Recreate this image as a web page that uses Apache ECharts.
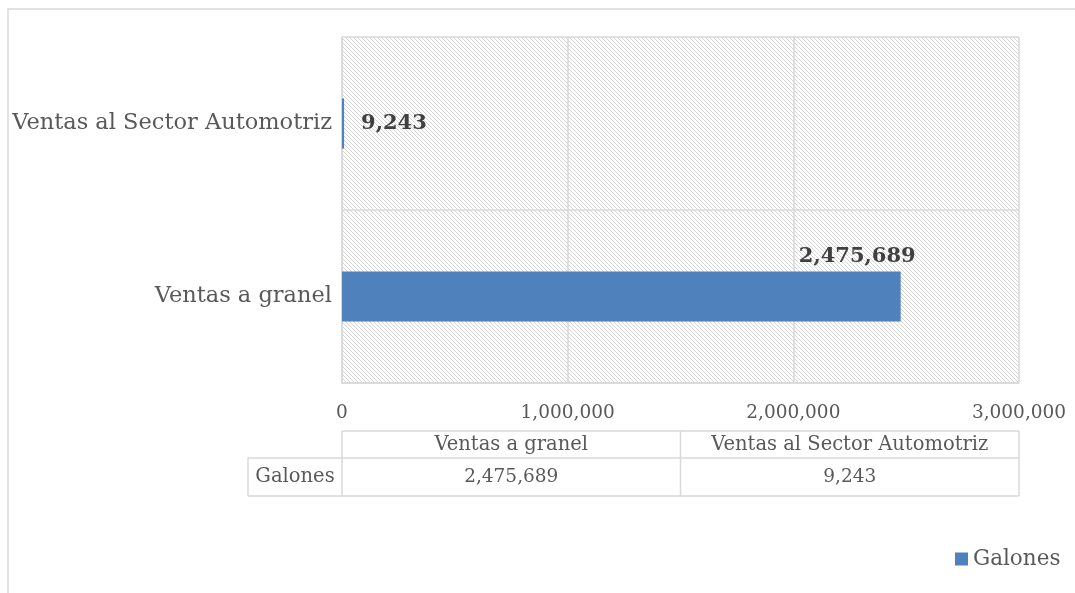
<!DOCTYPE html>
<html>
<head>
<meta charset="utf-8">
<script src="https://cdn.jsdelivr.net/npm/echarts@6/dist/echarts.min.js"></script>
<style>
html,body{margin:0;padding:0;background:#fff;}
#c{width:1075px;height:593px;}
</style>
</head>
<body>
<div id="c"></div>
<script>
const categories = ['Ventas a granel', 'Ventas al Sector Automotriz'];
const galones = [2475689, 9243];
const xTickMin = 0;
const xTickMax = 3000000;
const xTickStep = 1000000;
const seriesName = 'Galones';
const tableColumns = ['Ventas a granel', 'Ventas al Sector Automotriz'];
const tableRowLabel = 'Galones';
const tableRowValues = [2475689, 9243];

const fmt = n => Number(n).toLocaleString('en-US');
const FONT = 'DejaVu Serif';
const GRAY = '#595959';
const LINE = '#d9d9d9';

function makePattern() {
  const c = document.createElement('canvas');
  c.width = 8; c.height = 8;
  const ctx = c.getContext('2d');
  ctx.fillStyle = '#ffffff';
  ctx.fillRect(0, 0, 8, 8);
  ctx.fillStyle = '#d4d4d4';
  for (let y = 0; y < 8; y++) {
    for (let x = 0; x < 8; x++) {
      if (((x - y) % 4 + 4) % 4 === 0) ctx.fillRect(x, y, 1, 1);
    }
  }
  return c;
}

const chart = echarts.init(document.getElementById('c'), null, {renderer: 'canvas'});
const grid = {left: 342, top: 37, right: 56, bottom: 210};

chart.setOption({
  animation: false,
  backgroundColor: '#ffffff',
  grid: Object.assign({show: true, borderWidth: 0, backgroundColor: {image: makePattern(), repeat: 'repeat'}}, grid),
  legend: {
    data: [seriesName],
    left: 950, top: 543,
    itemWidth: 13, itemHeight: 13, itemGap: 3,
    icon: 'rect',
    textStyle: {fontFamily: FONT, fontSize: 21.5, color: GRAY}
  },
  xAxis: {
    type: 'value', min: xTickMin, max: xTickMax, interval: xTickStep,
    axisLine: {show: true, lineStyle: {color: LINE, width: 1.5}},
    axisTick: {show: false},
    axisLabel: {formatter: v => fmt(v), fontFamily: FONT, fontSize: 18.5, color: GRAY, margin: 21},
    splitLine: {show: true, lineStyle: {color: LINE, width: 1.5}}
  },
  yAxis: {
    type: 'category', data: categories,
    axisLine: {show: true, lineStyle: {color: LINE, width: 1.5}},
    axisTick: {show: false},
    axisLabel: {fontFamily: FONT, fontSize: 22.5, color: GRAY, margin: 10},
    splitLine: {show: true, lineStyle: {color: LINE, width: 1.5}}
  },
  series: [{
    name: seriesName, type: 'bar',
    data: galones.map((v, i) => ({
      value: v,
      label: i === 0
        ? {position: ['100%', 0], align: 'right', verticalAlign: 'bottom', offset: [15, -4]}
        : {position: 'right', distance: 17}
    })),
    barCategoryGap: '71%',
    itemStyle: {color: '#4f81bd'},
    label: {show: true, formatter: p => fmt(p.value), fontFamily: FONT, fontWeight: 'bold', fontSize: 21, color: '#404040'}
  }]
});

// Data table + outer border
const x0 = chart.convertToPixel({xAxisIndex: 0}, xTickMin);
const x1 = chart.convertToPixel({xAxisIndex: 0}, xTickMax);
const xm = (x0 + x1) / 2;
const yTop = 431, yMid = 458, yBot = 496;
const xLeft = 248;
const ls = {stroke: LINE, lineWidth: 1.5};
const line = (a, b, c, d) => ({type: 'line', shape: {x1: a, y1: b, x2: c, y2: d}, style: ls, silent: true});
const txt = (t, x, y) => ({type: 'text', x: x, y: y, style: {text: t, fontFamily: FONT, fontSize: 19.5, fill: GRAY, align: 'center', verticalAlign: 'middle'}, silent: true});
const numTxt = (t, x, y) => ({type: 'text', x: x, y: y, style: {text: t, fontFamily: FONT, fontSize: 18.5, fill: GRAY, align: 'center', verticalAlign: 'middle'}, silent: true});

const colX = [x0, xm, x1];
const g = [
  {type: 'rect', shape: {x: 8, y: 9, width: 1200, height: 800}, style: {fill: 'none', stroke: LINE, lineWidth: 1.5}, silent: true},
  line(x0, yTop, x1, yTop),
  line(xLeft, yMid, x1, yMid),
  line(xLeft, yBot, x1, yBot),
  line(xLeft, yMid, xLeft, yBot),
  line(x0, yTop, x0, yBot),
  line(xm, yTop, xm, yBot),
  line(x1, yTop, x1, yBot),
  txt(tableRowLabel, (xLeft + x0) / 2, (yMid + yBot) / 2)
];
tableColumns.forEach((c, i) => {
  g.push(txt(c, (colX[i] + colX[i + 1]) / 2, (yTop + yMid) / 2));
  g.push(numTxt(fmt(tableRowValues[i]), (colX[i] + colX[i + 1]) / 2, (yMid + yBot) / 2));
});
chart.setOption({graphic: g});
</script>
</body>
</html>
